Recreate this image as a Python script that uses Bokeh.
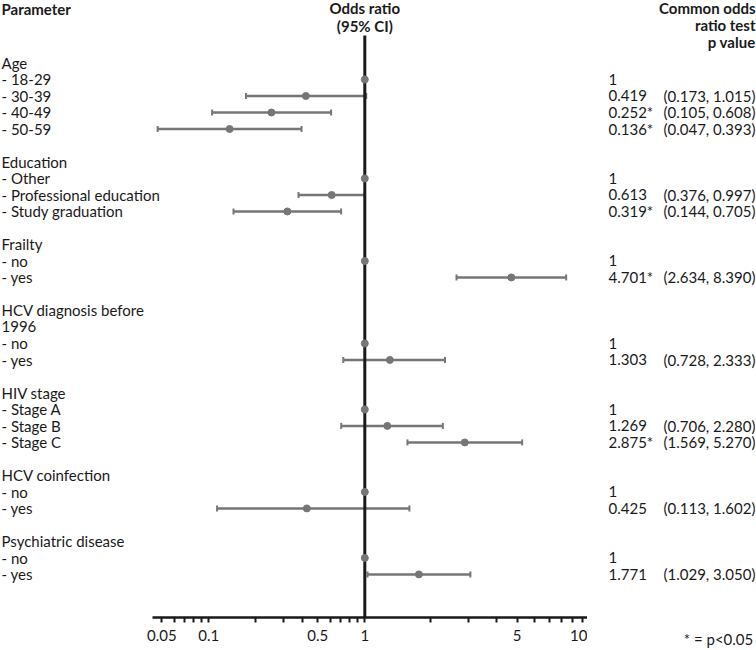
import math
from bokeh.plotting import figure
from bokeh.layouts import row
from bokeh.models import (Range1d, FixedTicker, CustomJSTickFormatter, ColumnDataSource,
                          Whisker, TeeHead, LinearAxis)
from bokeh.embed import file_html
from bokeh.resources import INLINE
from bokeh.core.properties import value

# ---------------- data ----------------
group_titles = [["Age"], ["Education"], ["Frailty"], ["HCV diagnosis before", "1996"],
                ["HIV stage"], ["HCV coinfection"], ["Psychiatric disease"]]
levels = ["18-29", "30-39", "40-49", "50-59",
          "Other", "Professional education", "Study graduation",
          "no", "yes",
          "no", "yes",
          "Stage A", "Stage B", "Stage C",
          "no", "yes",
          "no", "yes"]
level_group = [0, 0, 0, 0, 1, 1, 1, 2, 2, 3, 3, 4, 4, 4, 5, 5, 6, 6]
odds_ratio = [1, 0.419, 0.252, 0.136, 1, 0.613, 0.319, 1, 4.701, 1, 1.303,
              1, 1.269, 2.875, 1, 0.425, 1, 1.771]
ci_low = [None, 0.173, 0.105, 0.047, None, 0.376, 0.144, None, 2.634, None, 0.728,
          None, 0.706, 1.569, None, 0.113, None, 1.029]
ci_high = [None, 1.015, 0.608, 0.393, None, 0.997, 0.705, None, 8.390, None, 2.333,
           None, 2.280, 5.270, None, 1.602, None, 3.050]
significant = [False, False, True, True, False, False, True, False, True, False, False,
               False, False, True, False, False, False, False]
major_ticks = [0.05, 0.1, 0.5, 1, 5, 10]
minor_ticks = [0.06, 0.07, 0.08, 0.09, 0.2, 0.3, 0.4, 0.6, 0.7, 0.8, 0.9,
               2, 3, 4, 6, 7, 8, 9]
header_param = "Parameter"
header_or = ["Odds ratio", "(95% CI)"]
header_p = ["Common odds", "ratio test", "p value"]
footnote = "* = p<0.05"

# ---------------- layout ----------------
W, H = 756, 650
W_MAIN = 587                      # main figure ends where the axis ends
W_RIGHT = W - W_MAIN
AXIS_Y = 619                      # pixel row of the x axis line
RIGHT_STRETCH = 218 / 156         # the reference draws OR>1 on a wider decade
X0_PX, DEC_PX = 364.3, 156.0      # pixel of OR=1 and width of a decade (OR<1)
ROW0_PX, ROW_PX = 62.7, 16.55
FONT = "Lato"
FS = "15px"
TXT = "#1a1a1a"
GREY = "#767676"


def tx(v):
    l = math.log10(v)
    return l if l <= 0 else l * RIGHT_STRETCH


def row_of_px(py):
    return (py - ROW0_PX) / ROW_PX


# build rows
label_rows, label_text = [], []
lvl_rows = []
r = 0
li = 0
for g, lines in enumerate(group_titles):
    for ln in lines:
        label_rows.append(r); label_text.append(ln)
        r += 1
    while li < len(levels) and level_group[li] == g:
        label_rows.append(r); label_text.append("- " + levels[li])
        lvl_rows.append(r)
        r += 1
        li += 1
    r += 1

txt_kw = dict(text_font=value(FONT), text_font_size=FS, text_color=TXT,
              text_baseline="middle")
axis_kw = dict(major_tick_in=0, major_tick_out=5, minor_tick_in=0, minor_tick_out=5,
               major_label_text_font=FONT, major_label_text_font_size=FS,
               major_label_text_color=TXT, major_label_standoff=7)

# ---------- main figure: labels, forest plot, axis ----------
p = figure(width=W_MAIN, height=H, output_backend="svg", toolbar_location=None,
           x_range=Range1d(-X0_PX / DEC_PX, (W_MAIN - X0_PX) / DEC_PX),
           y_range=Range1d(row_of_px(AXIS_Y), row_of_px(0)),
           x_axis_location=None, y_axis_location=None,
           min_border_left=0, min_border_right=0, min_border_top=0,
           min_border_bottom=H - AXIS_Y)
p.outline_line_color = None
p.grid.visible = False
p.extra_x_ranges = {"px": Range1d(0, W_MAIN)}

axis = LinearAxis(
    ticker=FixedTicker(ticks=[tx(v) for v in major_ticks],
                       minor_ticks=[tx(v) for v in minor_ticks]),
    formatter=CustomJSTickFormatter(code="""
        const s = %r;
        const v = tick <= 0 ? Math.pow(10, tick) : Math.pow(10, tick / s);
        return String(parseFloat(v.toPrecision(3)));
    """ % RIGHT_STRETCH),
    bounds=(-1.361, (W_MAIN - X0_PX) / DEC_PX),
    axis_line_width=2.7, axis_line_color=TXT,
    major_tick_line_width=2, minor_tick_line_width=2,
    major_tick_line_color=TXT, minor_tick_line_color=TXT, **axis_kw)
p.add_layout(axis, "below")

idx = [i for i in range(len(levels)) if ci_low[i] is not None]
wsrc = ColumnDataSource(dict(row=[lvl_rows[i] for i in idx],
                             lo=[tx(ci_low[i]) for i in idx],
                             hi=[tx(ci_high[i]) for i in idx]))
p.add_layout(Whisker(source=wsrc, base="row", lower="lo", upper="hi", dimension="width",
                     line_color=GREY, line_width=2.5, level="underlay",
                     lower_head=TeeHead(size=6, line_color=GREY, line_width=2),
                     upper_head=TeeHead(size=6, line_color=GREY, line_width=2)))

p.segment(x0=[tx(1)], x1=[tx(1)], y0=[row_of_px(35)], y1=[row_of_px(AXIS_Y)],
          line_width=3, line_color=TXT)

p.scatter(x=[tx(v) for v in odds_ratio], y=lvl_rows, size=7, color=GREY)

p.text(x=[1] * len(label_rows), y=label_rows, text=label_text, x_range_name="px",
       text_align="left", **txt_kw)
p.text(x=[1], y=[row_of_px(8.3)], text=[header_param], x_range_name="px",
       text_align="left", text_font_style="bold", **txt_kw)
p.text(x=[tx(1)] * 2, y=[row_of_px(7.5), row_of_px(25.5)], text=header_or,
       text_align="center", text_font_style="bold", **txt_kw)

# ---------- right figure: values, CI, p-value header, footnote ----------
pr = figure(width=W_RIGHT, height=H, output_backend="svg", toolbar_location=None,
            x_range=Range1d(W_MAIN, W), y_range=Range1d(row_of_px(AXIS_Y), row_of_px(0)),
            x_axis_location=None, y_axis_location=None,
            min_border_left=0, min_border_right=0, min_border_top=0,
            min_border_bottom=H - AXIS_Y)
pr.outline_line_color = None
pr.grid.visible = False

# footnote rendered as the single label of a line-less axis, level with the tick labels
note_axis = LinearAxis(ticker=FixedTicker(ticks=[718], minor_ticks=[]),
                       formatter=CustomJSTickFormatter(args=dict(note=footnote),
                                                       code="return note;"),
                       axis_line_color=None, major_tick_line_color=None,
                       minor_tick_line_color=None, **axis_kw)
pr.add_layout(note_axis, "below")

val_txt, ci_txt = [], []
for i in range(len(levels)):
    if ci_low[i] is None:
        val_txt.append("1"); ci_txt.append("")
    else:
        val_txt.append("%.3f%s" % (odds_ratio[i], "*" if significant[i] else ""))
        ci_txt.append("(%.3f, %.3f)" % (ci_low[i], ci_high[i]))
pr.text(x=[608] * len(levels), y=lvl_rows, text=val_txt, text_align="left", **txt_kw)
pr.text(x=[663] * len(levels), y=lvl_rows, text=ci_txt, text_align="left", **txt_kw)
pr.text(x=[755] * 3, y=[row_of_px(7.5), row_of_px(24.5), row_of_px(41.5)], text=header_p,
        text_align="right", text_font_style="bold", **txt_kw)

layout = row(p, pr, spacing=0)
open("out.html", "w").write(file_html(layout, INLINE))
